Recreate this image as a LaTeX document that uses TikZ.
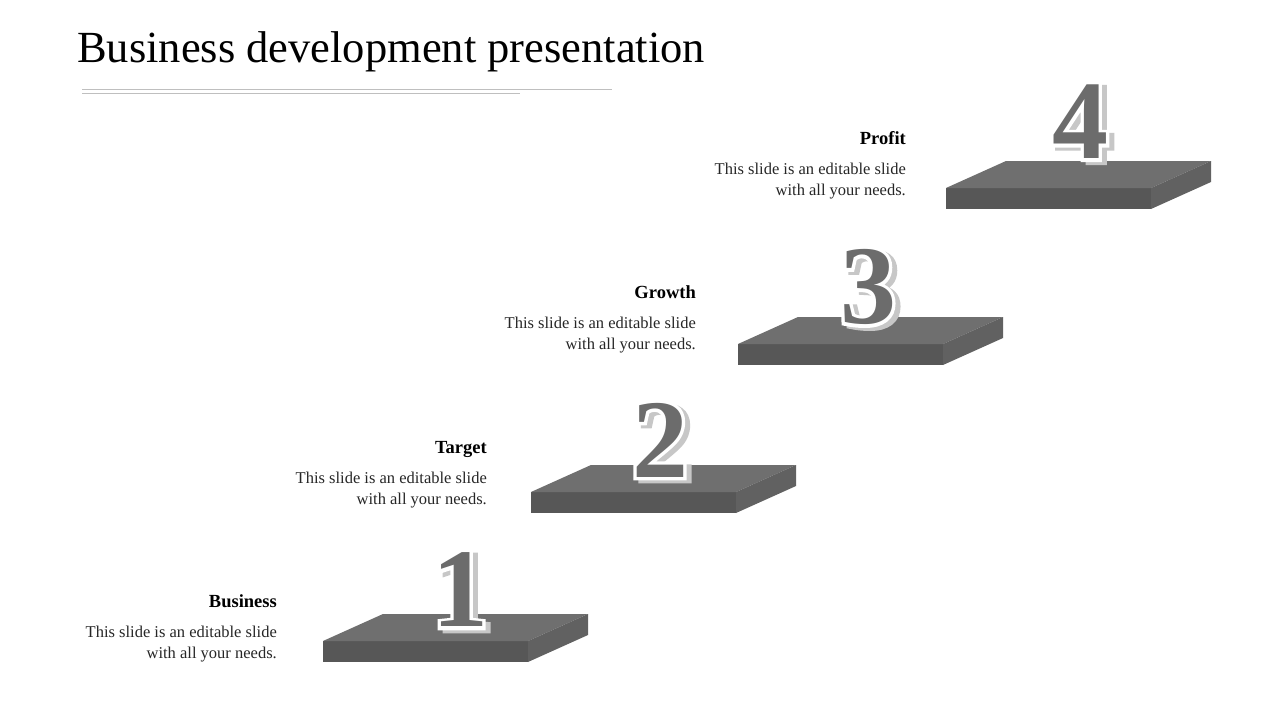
\documentclass[tikz,border=0pt]{standalone}
\usepackage{fontspec}
\setmainfont{Liberation Serif}
\newfontfamily\rimfont[FakeBold=6]{Liberation Serif Bold}
\definecolor{slabtop}{HTML}{6F6F6F}
\definecolor{slabfront}{HTML}{575757}
\definecolor{slabside}{HTML}{616161}
\definecolor{digitgray}{HTML}{6C6C6C}

\begin{document}
\begin{tikzpicture}[x=1pt,y=-1pt,
    head/.style={anchor=base east,inner sep=0pt,font=\fontsize{18.5}{21}\selectfont\bfseries},
    body/.style={anchor=north east,inner sep=0pt,align=right,font=\fontsize{16.5}{21}\selectfont,text=black!85},
    digit/.style={inner sep=0pt,font=\fontsize{112}{112}\selectfont\bfseries},
    rim/.style={inner sep=0pt,font=\fontsize{112}{112}\rimfont}]
    \useasboundingbox (0,0) rectangle (1280,720);
    \fill[white] (0,0) rectangle (1280,720);

    % title and rules
    \node[anchor=base west,inner sep=0pt,font=\fontsize{44.5}{50}\selectfont] (title) at (77,62) {Business development presentation};
    \draw[black!25] (82,89) -- (612,89);
    \draw[black!25] (82,93) -- (520,93);

    % steps
    \foreach \n/\sx/\sy/\dx/\dy/\tx/\ty/\head in {
        1/323/641/460/590/277/607/Business,
        2/531/492/660/440/487/453/Target,
        3/738/344/868/287/696/298/Growth,
        4/946/188/1080/122/906/144/Profit}{
      \fill[slabfront] (\sx,\sy) rectangle (\sx+205,\sy+21);
      \fill[slabtop] (\sx,\sy) -- (\sx+205,\sy) -- (\sx+265,\sy-27) -- (\sx+60,\sy-27) -- cycle;
      \fill[slabside] (\sx+205,\sy) -- (\sx+265,\sy-27) -- (\sx+265,\sy-6) -- (\sx+205,\sy+21) -- cycle;
      % shadow, white rim, number
      \node[rim,text=black!22] (shade\n) at (\dx+5,\dy+3) {\n};
      \node[rim,text=white] (rim\n) at (\dx,\dy) {\n};
      \node[digit,text=digitgray] (digit\n) at (\dx,\dy) {\n};
      \node[head] (head\n) at (\tx,\ty) {\head};
      \node[body] (body\n) at (\tx,\ty+19) {This slide is an editable slide\\with all your needs.};
    }
\end{tikzpicture}
\end{document}
